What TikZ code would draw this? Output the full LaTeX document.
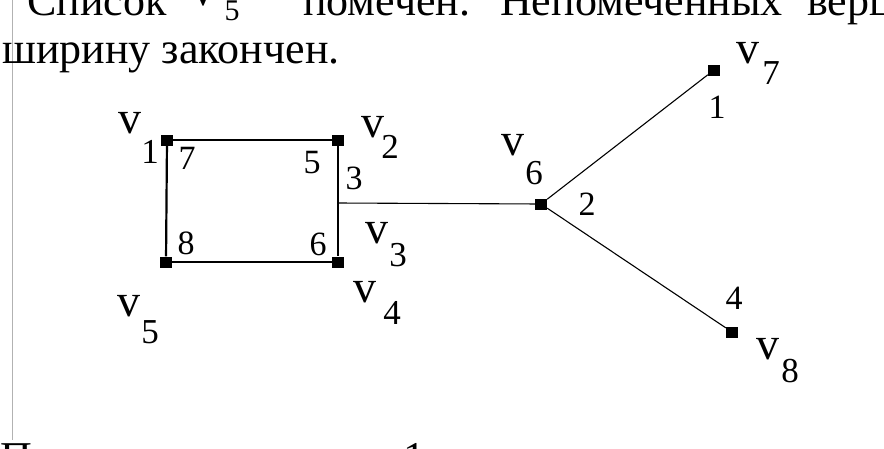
\documentclass[tikz,border=0pt]{standalone}
\usepackage{fontspec}
\setmainfont{Liberation Serif}
\begin{document}
\begin{tikzpicture}[x=1pt,y=-1pt,
  vert/.style={rectangle,fill=black,minimum width=12pt,minimum height=11pt,inner sep=0pt},
  vlab/.style={inner sep=0pt,font=\fontsize{46}{46}\selectfont},
  vsub/.style={inner sep=0pt,font=\fontsize{35}{35}\selectfont},
  num/.style={inner sep=0pt,font=\fontsize{34}{34}\selectfont},
  txt/.style={inner sep=0pt,anchor=base west,font=\fontsize{44}{44}\selectfont},
  thinedge/.style={line width=1.1pt,black},
  thickedge/.style={line width=2.2pt,black}]
\useasboundingbox (0,0) rectangle (884,448);
\clip (0,0) rectangle (884,448);
\fill[white] (0,0) rectangle (884,448);
% page margin line
\draw[black!30,line width=1pt] (12.5,0) -- (12.5,440);
% text above
\node[txt] (t1) at (27,15) {Список};
\node[inner sep=0pt,anchor=base,font=\fontsize{44}{44}\selectfont] (t2) at (203,5) {V};
\node[inner sep=0pt,anchor=base,font=\fontsize{30}{30}\selectfont] (t3) at (232,20) {5};
\node[inner sep=0pt,anchor=base,font=\fontsize{44}{44}\selectfont] (t4) at (278,0) {–};
\node[txt] (t5) at (303,15) {помечен.};
\node[txt] (t6) at (500,15) {Непомеченных};
\node[txt] (t7) at (807,15) {вершин};
\node[txt] (t8) at (2,63) {ширину закончен.};
% text below
\node[txt] (b1) at (0,472) {П};
\node[txt] (b2) at (403,472) {1};
% vertices
\node[vert] (v1) at (167,140) {};
\node[vert] (v2) at (338,140) {};
\coordinate (v3) at (338,203);
\node[vert] (v4) at (338,262) {};
\node[vert] (v5) at (166,262) {};
\node[vert] (v6) at (541,204) {};
\node[vert] (v7) at (714,70) {};
\node[vert] (v8) at (732,332) {};
% edges
\draw[thinedge] (v1) -- (v2);
\draw[thickedge] (v1) -- (v5);
\draw[thickedge] (v5) -- (v4);
\draw[thickedge] (v2) -- (v3) -- (v4);
\draw[thinedge] (v3) -- (v6);
\draw[thinedge] (v6) -- (v7);
\draw[thinedge] (v6) -- (v8);
% vertex labels
\node[vlab] (l1) at (130,123) {v}; \node[vsub] (l1s) at (150,152) {1};
\node[vlab] (l2) at (373,127) {v}; \node[vsub] (l2s) at (390,147) {2};
\node[vlab] (l3) at (377,233) {v}; \node[vsub] (l3s) at (398,255) {3};
\node[vlab] (l4) at (365,292) {v}; \node[vsub] (l4s) at (392,313) {4};
\node[vlab] (l5) at (129,306) {v}; \node[vsub] (l5s) at (150,332) {5};
\node[vlab] (l6) at (513,145) {v}; \node[vsub] (l6s) at (534,173) {6};
\node[vlab] (l7) at (748,53) {v};  \node[vsub] (l7s) at (771,73) {7};
\node[vlab] (l8) at (768,349) {v}; \node[vsub] (l8s) at (790,371) {8};
% order numbers
\node[num] (n7) at (187,158) {7};
\node[num] (n5) at (312,163) {5};
\node[num] (n3) at (354,178) {3};
\node[num] (n8) at (186,243) {8};
\node[num] (n6) at (318,244) {6};
\node[num] (n2) at (587,204) {2};
\node[num] (n1) at (717,107) {1};
\node[num] (n4) at (734,298) {4};
\end{tikzpicture}
\end{document}
